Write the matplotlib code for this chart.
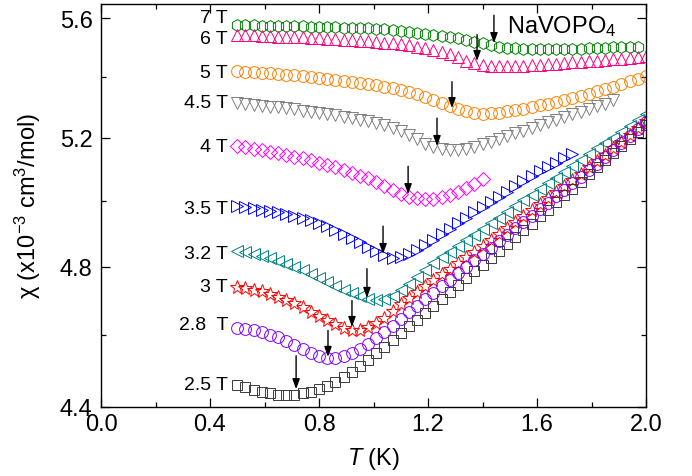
import matplotlib
matplotlib.use('Agg')
import matplotlib.pyplot as plt
from matplotlib.ticker import FixedLocator, FormatStrFormatter, NullFormatter

# temperature grid (K); shorter runs use the first len(chi) points
T_GRID = [0.50, 0.53, 0.56, 0.59, 0.62, 0.65, 0.68, 0.71, 0.74, 0.77,
          0.80, 0.83, 0.86, 0.89, 0.92, 0.95, 0.98, 1.01, 1.04, 1.07,
          1.10, 1.13, 1.16, 1.19, 1.22, 1.25, 1.28, 1.31, 1.34, 1.37,
          1.40, 1.43, 1.46, 1.49, 1.52, 1.55, 1.58, 1.61, 1.64, 1.67,
          1.70, 1.73, 1.76, 1.79, 1.82, 1.85, 1.88, 1.91, 1.94, 1.97, 2.00]

# chi in 1e-3 cm^3/mol
CHI_7T = [5.576, 5.575, 5.575, 5.574, 5.574, 5.573, 5.572, 5.572, 5.571, 5.570,
          5.569, 5.568, 5.568, 5.567, 5.567, 5.566, 5.565, 5.563, 5.561, 5.558,
          5.555, 5.552, 5.549, 5.546, 5.542, 5.538, 5.534, 5.530, 5.524, 5.519,
          5.514, 5.508, 5.502, 5.498, 5.496, 5.495, 5.494, 5.493, 5.493, 5.493,
          5.493, 5.494, 5.495, 5.496, 5.497, 5.498, 5.499, 5.500, 5.501, 5.502]
CHI_6T = [5.542, 5.541, 5.540, 5.539, 5.537, 5.536, 5.535, 5.534, 5.533, 5.532,
          5.531, 5.529, 5.528, 5.526, 5.524, 5.522, 5.520, 5.518, 5.515, 5.513,
          5.510, 5.506, 5.502, 5.496, 5.489, 5.483, 5.475, 5.466, 5.454, 5.446,
          5.440, 5.437, 5.436, 5.436, 5.436, 5.437, 5.439, 5.440, 5.442, 5.444,
          5.446, 5.448, 5.450, 5.452, 5.454, 5.456, 5.458, 5.461, 5.464, 5.467, 5.470]
CHI_5T = [5.418, 5.416, 5.415, 5.413, 5.411, 5.409, 5.407, 5.405, 5.402, 5.399,
          5.396, 5.393, 5.390, 5.387, 5.383, 5.379, 5.375, 5.371, 5.366, 5.361,
          5.356, 5.349, 5.341, 5.332, 5.322, 5.313, 5.303, 5.293, 5.285, 5.280,
          5.278, 5.279, 5.281, 5.285, 5.289, 5.294, 5.299, 5.305, 5.311, 5.317,
          5.323, 5.330, 5.337, 5.344, 5.351, 5.359, 5.367, 5.375, 5.384, 5.393, 5.402]
CHI_45T = [5.313, 5.310, 5.307, 5.304, 5.301, 5.298, 5.295, 5.292, 5.288, 5.284,
           5.280, 5.276, 5.272, 5.268, 5.264, 5.258, 5.253, 5.247, 5.240, 5.231,
           5.221, 5.208, 5.194, 5.180, 5.169, 5.162, 5.159, 5.159, 5.163, 5.170,
           5.179, 5.187, 5.196, 5.205, 5.214, 5.222, 5.231, 5.240, 5.249, 5.257,
           5.266, 5.275, 5.284, 5.293, 5.302, 5.311, 5.321]
CHI_4T = [5.173, 5.169, 5.164, 5.160, 5.155, 5.150, 5.145, 5.139, 5.133, 5.127,
          5.120, 5.113, 5.105, 5.096, 5.088, 5.079, 5.070, 5.060, 5.047, 5.034,
          5.022, 5.013, 5.008, 5.006, 5.007, 5.012, 5.019, 5.028, 5.039, 5.053, 5.068]
CHI_35T = [4.983, 4.980, 4.977, 4.973, 4.969, 4.965, 4.960, 4.954, 4.947, 4.940,
           4.932, 4.922, 4.911, 4.899, 4.887, 4.874, 4.860, 4.846, 4.834, 4.827,
           4.828, 4.838, 4.851, 4.866, 4.881, 4.897, 4.914, 4.931, 4.947, 4.964,
           4.981, 4.997, 5.013, 5.029, 5.045, 5.061, 5.077, 5.092, 5.106, 5.120,
           5.134, 5.146]
CHI_32T = [4.847, 4.843, 4.838, 4.832, 4.826, 4.818, 4.809, 4.799, 4.789, 4.777,
           4.765, 4.754, 4.743, 4.732, 4.722, 4.713, 4.706, 4.702, 4.705, 4.714,
           4.730, 4.750, 4.770, 4.790, 4.810, 4.828, 4.845, 4.862, 4.879, 4.896,
           4.913, 4.931, 4.948, 4.966, 4.984, 5.002, 5.019, 5.037, 5.055, 5.072,
           5.090, 5.109, 5.128, 5.147, 5.165, 5.182, 5.200, 5.218, 5.237, 5.256, 5.276]
CHI_3T = [4.740, 4.736, 4.732, 4.727, 4.720, 4.712, 4.703, 4.692, 4.681, 4.668,
          4.655, 4.643, 4.631, 4.621, 4.615, 4.615, 4.623, 4.635, 4.651, 4.670,
          4.690, 4.708, 4.726, 4.743, 4.760, 4.777, 4.794, 4.811, 4.828, 4.845,
          4.862, 4.880, 4.898, 4.916, 4.934, 4.953, 4.972, 4.990, 5.009, 5.027,
          5.046, 5.066, 5.085, 5.105, 5.125, 5.145, 5.165, 5.186, 5.208, 5.230, 5.253]
CHI_28T = [4.621, 4.618, 4.614, 4.609, 4.602, 4.594, 4.584, 4.573, 4.562, 4.551,
           4.542, 4.536, 4.535, 4.540, 4.550, 4.562, 4.576, 4.592, 4.609, 4.628,
           4.648, 4.666, 4.685, 4.704, 4.723, 4.742, 4.761, 4.780, 4.800, 4.819,
           4.838, 4.857, 4.876, 4.895, 4.915, 4.934, 4.954, 4.974, 4.994, 5.014,
           5.034, 5.055, 5.075, 5.096, 5.117, 5.139, 5.160, 5.182, 5.205, 5.227, 5.250]
CHI_25T = [4.461, 4.454, 4.447, 4.441, 4.437, 4.434, 4.433, 4.434, 4.437, 4.442,
           4.449, 4.458, 4.469, 4.482, 4.497, 4.513, 4.531, 4.549, 4.568, 4.587,
           4.606, 4.626, 4.645, 4.665, 4.685, 4.705, 4.725, 4.745, 4.765, 4.786,
           4.806, 4.826, 4.847, 4.868, 4.889, 4.909, 4.930, 4.952, 4.973, 4.995,
           5.017, 5.038, 5.060, 5.083, 5.105, 5.128, 5.150, 5.173, 5.196, 5.219, 5.242]

FIELD_LABELS = ['7 T', '6 T', '5 T', '4.5 T', '4 T', '3.5 T', '3.2 T', '3 T', '2.8  T', '2.5 T']
# transition temperatures marked with arrows, and chi at the arrow tip
T_C = [1.442, 1.380, 1.288, 1.233, 1.127, 1.035, 0.976, 0.921, 0.833, 0.716]
CHI_TIP = [5.514, 5.453, 5.296, 5.173, 5.021, 4.838, 4.708, 4.624, 4.539, 4.449]

# layout / style (not data)
LABEL_Y = [5.603, 5.528, 5.415, 5.313, 5.170, 4.975, 4.838, 4.742, 4.632, 4.463]
ARROW_LEN = [20, 19, 19, 20, 20, 20, 21, 19, 19, 24]   # points
STYLE = {
    '7 T':    ('#008000', 'h', 8.5),
    '6 T':    ('#FF0080', '^', 8.5),
    '5 T':    ('#FF8000', 'o', 8.5),
    '4.5 T':  ('#808080', 'v', 8.5),
    '4 T':    ('#FF00FF', 'D', 7.0),
    '3.5 T':  ('#0000FF', '>', 8.5),
    '3.2 T':  ('#008080', '<', 8.5),
    '3 T':    ('#FF0000', '*', 10.0),
    '2.8  T': ('#8000FF', 'o', 8.5),
    '2.5 T':  ('#3A3A3A', 's', 7.5),
}

plt.rcParams.update({
    'font.family': ['Liberation Sans', 'DejaVu Sans'],
    'mathtext.fontset': 'custom',
    'mathtext.rm': 'Liberation Sans',
    'mathtext.it': 'Liberation Sans:italic',
    'font.size': 17,
})


def main():
    series = [CHI_7T, CHI_6T, CHI_5T, CHI_45T, CHI_4T,
              CHI_35T, CHI_32T, CHI_3T, CHI_28T, CHI_25T]

    fig = plt.figure(figsize=(6.92, 4.77), dpi=100)
    ax = fig.add_axes([101 / 692, 1 - 408 / 477, 545 / 692, 403 / 477])
    ax.set_yscale('log')

    # violet drawn last so it sits on top where low-field curves merge
    order = [0, 1, 2, 3, 4, 5, 6, 7, 9, 8]
    for i in order:
        chi = series[i]
        lab = FIELD_LABELS[i]
        color, marker, ms = STYLE[lab]
        ax.plot(T_GRID[:len(chi)], chi, ls='none', marker=marker, ms=ms,
                mfc='none', mec=color, mew=0.7)

    for i, lab in enumerate(FIELD_LABELS):
        ax.text(0.466, LABEL_Y[i], lab, ha='right', va='center', fontsize=14)

    for tc, tip, ln in zip(T_C, CHI_TIP, ARROW_LEN):
        ax.annotate('', xy=(tc, tip), xytext=(0, ln), textcoords='offset points',
                    xycoords='data',
                    arrowprops=dict(arrowstyle='-|>,head_length=0.6,head_width=0.22',
                                    color='k', lw=1.0, mutation_scale=10,
                                    shrinkA=0, shrinkB=0))

    ax.text(0.745, 0.930, 'NaVOPO$_4$', transform=ax.transAxes,
            ha='left', va='baseline', fontsize=17)

    ax.set_xlim(0.0, 2.0)
    ax.set_ylim(4.4, 5.649)
    ax.xaxis.set_major_locator(FixedLocator([0.0, 0.4, 0.8, 1.2, 1.6, 2.0]))
    ax.xaxis.set_minor_locator(FixedLocator([0.2, 0.6, 1.0, 1.4, 1.8]))
    ax.xaxis.set_major_formatter(FormatStrFormatter('%.1f'))
    ax.yaxis.set_major_locator(FixedLocator([4.4, 4.8, 5.2, 5.6]))
    ax.yaxis.set_minor_locator(FixedLocator([4.6, 5.0, 5.4]))
    ax.yaxis.set_major_formatter(FormatStrFormatter('%.1f'))
    ax.yaxis.set_minor_formatter(NullFormatter())

    ax.tick_params(which='both', direction='in', top=True, right=True, width=0.9)
    ax.tick_params(which='major', length=6.5)
    ax.tick_params(which='minor', length=3.6)
    ax.tick_params(axis='x', which='major', pad=4, labelsize=17)
    ax.tick_params(axis='y', which='major', pad=6, labelsize=17)
    for sp in ax.spines.values():
        sp.set_linewidth(1.0)

    ax.set_xlabel('$T$ (K)', fontsize=17)
    ax.set_ylabel('χ (x10$^{-3}$ cm$^3$/mol)', fontsize=17)
    ax.xaxis.set_label_coords(0.5, -0.094)
    ax.yaxis.set_label_coords(-0.106, 0.5)

    fig.savefig('out.png', dpi=100)
    plt.close(fig)


if __name__ == '__main__':
    main()
